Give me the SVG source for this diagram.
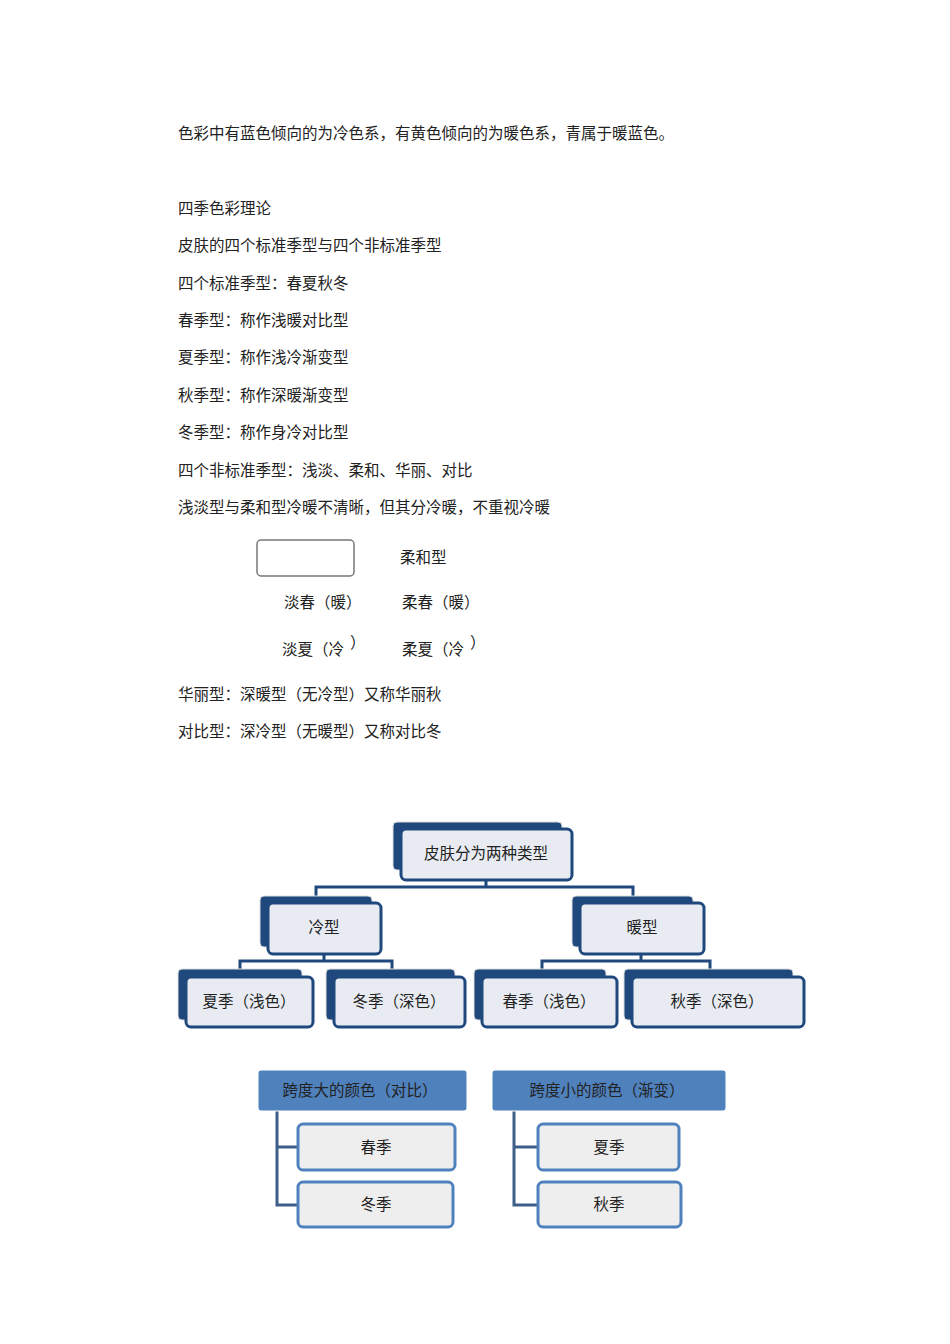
<svg xmlns="http://www.w3.org/2000/svg" width="950" height="1344" viewBox="0 0 950 1344">
<style>
text{font-family:"Noto Sans CJK SC","Noto Sans",sans-serif;font-size:15.5px;fill:#222}
.bk{fill:#1F497D;stroke:#ddd;stroke-width:1}
.fr{fill:#E8ECF2;stroke:#1F497D;stroke-width:3}
.c{text-anchor:middle}
.ln{fill:none;stroke:#1F497D;stroke-width:3}
.hd{fill:#4F81BD;stroke:#fff;stroke-width:1}
.bx{fill:#EEEEEE;stroke:#4F81BD;stroke-width:3}
.l2{fill:none;stroke:#3F5F8A;stroke-width:3}
</style>
<rect width="950" height="1344" fill="#fff"/>
<g id="text">
<text x="178" y="139">色彩中有蓝色倾向的为冷色系，有黄色倾向的为暖色系，青属于暖蓝色。</text>
<text x="178" y="214">四季色彩理论</text>
<text x="178" y="251">皮肤的四个标准季型与四个非标准季型</text>
<text x="178" y="289">四个标准季型：春夏秋冬</text>
<text x="178" y="326">春季型：称作浅暖对比型</text>
<text x="178" y="363">夏季型：称作浅冷渐变型</text>
<text x="178" y="401">秋季型：称作深暖渐变型</text>
<text x="178" y="438">冬季型：称作身冷对比型</text>
<text x="178" y="476">四个非标准季型：浅淡、柔和、华丽、对比</text>
<text x="178" y="513">浅淡型与柔和型冷暖不清晰，但其分冷暖，不重视冷暖</text>
<text x="400" y="563">柔和型</text>
<text x="284" y="608">淡春（暖）</text>
<text x="402" y="608">柔春（暖）</text>
<text x="282" y="655">淡夏（冷</text>
<text x="350" y="648">）</text>
<text x="402" y="655">柔夏（冷</text>
<text x="470" y="648">）</text>
<text x="178" y="700">华丽型：深暖型（无冷型）又称华丽秋</text>
<text x="178" y="737">对比型：深冷型（无暖型）又称对比冬</text>
</g>
<g id="blank-box"><rect x="257" y="540" width="97" height="36" rx="4" fill="#fff" stroke="#777" stroke-width="1.5"/></g>
<g id="connectors">
<polyline class="ln" points="486,880 486,887"/>
<polyline class="ln" points="316,896 316,887 633,887 633,896"/>
<polyline class="ln" points="324,954 324,961"/>
<polyline class="ln" points="240,969 240,961 392,961 392,969"/>
<polyline class="ln" points="641,954 641,961"/>
<polyline class="ln" points="542,969 542,961 710,961 710,969"/>
<polyline class="l2" points="277,1111 277,1205 298,1205"/>
<line class="l2" x1="277" y1="1147" x2="298" y2="1147"/>
<polyline class="l2" points="514,1111 514,1205 538,1205"/>
<line class="l2" x1="514" y1="1147" x2="538" y2="1147"/>
</g>
<g id="root"><rect class="bk" x="393" y="822" width="169" height="48" rx="4"/><rect class="fr" x="401" y="829" width="171" height="51" rx="5"/><text class="c" x="486" y="859">皮肤分为两种类型</text></g>
<g id="cold"><rect class="bk" x="260" y="896" width="112" height="51" rx="4"/><rect class="fr" x="268" y="903" width="113" height="51" rx="5"/><text class="c" x="324" y="933">冷型</text></g>
<g id="warm"><rect class="bk" x="572" y="896" width="121" height="51" rx="4"/><rect class="fr" x="580" y="903" width="124" height="51" rx="5"/><text class="c" x="642" y="933">暖型</text></g>
<g id="summer"><rect class="bk" x="178" y="969" width="124" height="51" rx="4"/><rect class="fr" x="186" y="977" width="127" height="50" rx="5"/><text class="c" x="249" y="1007">夏季（浅色）</text></g>
<g id="winter"><rect class="bk" x="326" y="969" width="129" height="51" rx="4"/><rect class="fr" x="334" y="977" width="131" height="50" rx="5"/><text class="c" x="399" y="1007">冬季（深色）</text></g>
<g id="spring"><rect class="bk" x="474" y="969" width="132" height="51" rx="4"/><rect class="fr" x="482" y="977" width="135" height="50" rx="5"/><text class="c" x="549" y="1007">春季（浅色）</text></g>
<g id="autumn"><rect class="bk" x="624" y="969" width="169" height="51" rx="4"/><rect class="fr" x="632" y="977" width="172" height="50" rx="5"/><text class="c" x="717" y="1007">秋季（深色）</text></g>
<g id="big"><rect class="hd" x="258" y="1070" width="209" height="41" rx="3"/><text class="c" x="360" y="1096">跨度大的颜色（对比）</text></g>
<g id="b-spring"><rect class="bx" x="298" y="1124" width="157" height="46" rx="5"/><text class="c" x="376" y="1153">春季</text></g>
<g id="b-winter"><rect class="bx" x="298" y="1182" width="155" height="45" rx="5"/><text class="c" x="376" y="1210">冬季</text></g>
<g id="small"><rect class="hd" x="492" y="1070" width="234" height="41" rx="3"/><text class="c" x="607" y="1096">跨度小的颜色（渐变）</text></g>
<g id="s-summer"><rect class="bx" x="538" y="1124" width="141" height="46" rx="5"/><text class="c" x="609" y="1153">夏季</text></g>
<g id="s-autumn"><rect class="bx" x="538" y="1182" width="143" height="45" rx="5"/><text class="c" x="609" y="1210">秋季</text></g>
</svg>
